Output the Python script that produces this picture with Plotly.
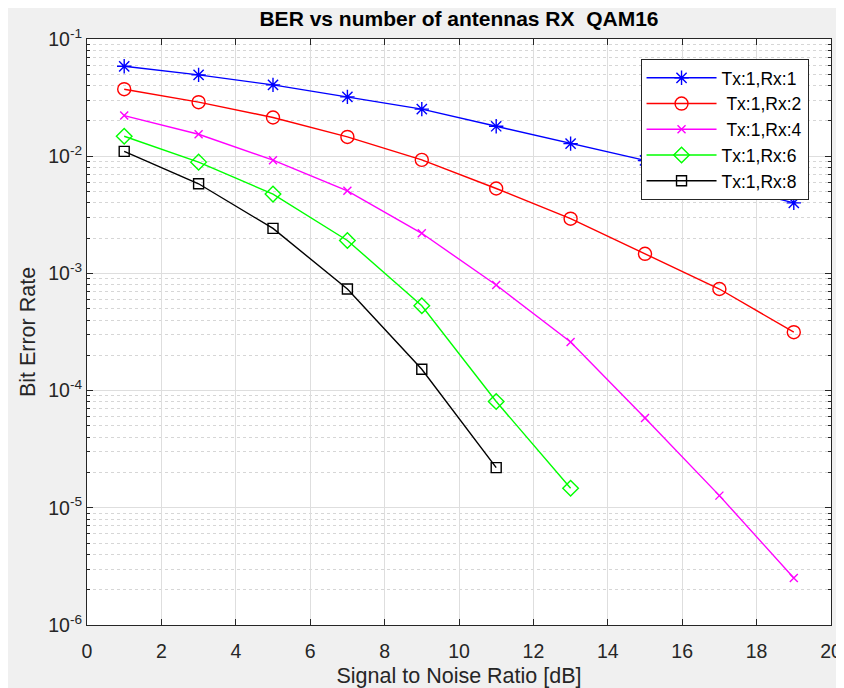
import plotly.graph_objects as go

# ---- data ----
snr = [1, 3, 5, 7, 9, 11, 13, 15, 17, 19]
ber_rx1 = [0.0585, 0.0494, 0.0406, 0.0321, 0.0252, 0.0180, 0.0128, 0.0092, 0.0058, 0.0040]
ber_rx2 = [0.0373, 0.0289, 0.0214, 0.0146, 0.0093, 0.0053, 0.00293, 0.00147, 0.000736, 0.000315]
ber_rx4 = [0.0222, 0.0154, 0.00925, 0.00507, 0.0022, 0.000796, 0.00026, 5.83e-5, 1.27e-5, 2.52e-6]
ber_rx6 = [0.0148, 0.0089, 0.00475, 0.00191, 0.00053, 8.07e-5, 1.47e-5]
ber_rx8 = [0.0110, 0.00582, 0.00242, 0.000736, 0.000152, 2.2e-5]

names = ["Tx:1,Rx:1", "\u00a0Tx:1,Rx:2", "\u00a0Tx:1,Rx:4", "Tx:1,Rx:6", "Tx:1,Rx:8"]
series = [ber_rx1, ber_rx2, ber_rx4, ber_rx6, ber_rx8]
colors = ["#0000ff", "#ff0000", "#ff00ff", "#00ff00", "#000000"]
symbols = ["asterisk-open", "circle-open", "x-thin-open", "diamond-open", "square-open"]
sizes = [12, 13, 8, 12, 10]

x_ticks = list(range(0, 21, 2))
y_exps = [-6, -5, -4, -3, -2, -1]
y_tickvals = [10.0 ** e for e in y_exps]
y_ticktext = [f"10<sup>{e}</sup>" for e in y_exps]
y_minor = [m * 10.0 ** e for e in y_exps[:-1] for m in range(2, 10)]

FONT = "Liberation Sans, Arial, Helvetica, sans-serif"
AX = "#262626"
W, H = 836, 680  # page body adds an 8px offset at left/top

fig = go.Figure()
for name, ys, c, s, sz in zip(names, series, colors, symbols, sizes):
    fig.add_trace(go.Scatter(
        x=snr[:len(ys)], y=ys, name=name, mode="lines+markers",
        line=dict(color=c, width=1.4),
        marker=dict(symbol=s, size=sz, color=c, line=dict(color=c, width=1.4)),
    ))

fig.update_layout(
    width=W, height=H,
    paper_bgcolor="#f0f0f0", plot_bgcolor="#ffffff",
    margin=dict(l=79, r=13, t=31, b=63, autoexpand=False),
    font=dict(family=FONT, color=AX, size=19),
    title=dict(text="<b>BER vs number of antennas RX  QAM16</b>",
               font=dict(size=21, color="#000000", family=FONT),
               x=0.5, xref="paper", xanchor="center",
               y=1 - 11 / H, yref="container", yanchor="middle"),
    showlegend=True,
    legend=dict(x=0.744, y=0.966, xanchor="left", yanchor="top",
                bgcolor="#ffffff", bordercolor="#262626", borderwidth=1,
                font=dict(size=17.5, color="#000000", family=FONT),
                itemwidth=70, tracegroupgap=0),
)

fig.update_xaxes(
    range=[0, 20], tickmode="array", tickvals=x_ticks, automargin=False,
    ticks="inside", ticklen=6, tickcolor=AX, tickwidth=1, ticklabelstandoff=9,
    showline=True, linecolor=AX, linewidth=1, mirror="allticks",
    showgrid=True, gridcolor="#dedede", gridwidth=1, zeroline=False,
    tickfont=dict(size=19.5, color=AX),
    title=dict(text="Signal to Noise Ratio [dB]", font=dict(size=21.5, color=AX), standoff=8),
)
fig.update_yaxes(
    type="log", range=[-6, -1], tickmode="array", automargin=False,
    tickvals=y_tickvals, ticktext=y_ticktext,
    ticks="inside", ticklen=6, tickcolor=AX, tickwidth=1,
    showline=True, linecolor=AX, linewidth=1, mirror="allticks",
    showgrid=True, gridcolor="#dedede", gridwidth=1, zeroline=False,
    tickfont=dict(size=19.5, color=AX),
    minor=dict(tickmode="array", tickvals=y_minor, ticks="inside", ticklen=3,
               tickcolor=AX, showgrid=True, gridcolor="#d6d6d6", griddash="dot", gridwidth=1),
    title=dict(text="Bit Error Rate", font=dict(size=21.5, color=AX), standoff=6),
)

fig.write_html("out.html")
